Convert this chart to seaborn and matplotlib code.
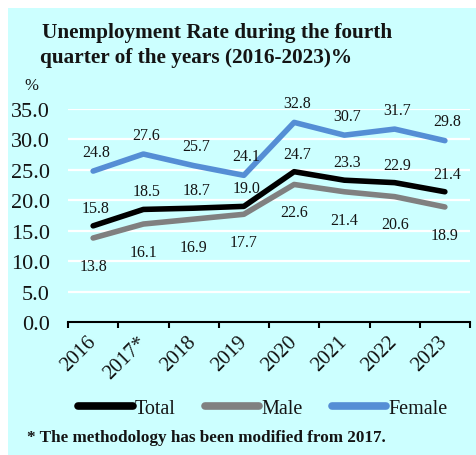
import matplotlib
matplotlib.use("Agg")
import matplotlib.pyplot as plt
import seaborn as sns
import pandas as pd
import numpy as np
from matplotlib.lines import Line2D

years = ["2016", "2017*", "2018", "2019", "2020", "2021", "2022", "2023"]
total = [15.8, 18.5, 18.7, 19.0, 24.7, 23.3, 22.9, 21.4]
male = [13.8, 16.1, 16.9, 17.7, 22.6, 21.4, 20.6, 18.9]
female = [24.8, 27.6, 25.7, 24.1, 32.8, 30.7, 31.7, 29.8]
series_names = ["Total", "Male", "Female"]
colors = {"Total": "#000000", "Male": "#808080", "Female": "#558ED5"}

bg = "#CCFFFF"
serif = ["Liberation Serif", "DejaVu Serif"]
text_color = "#141414"

sns.set_theme(style="white")
plt.rcParams["font.family"] = serif
plt.rcParams["text.color"] = text_color

df = pd.DataFrame({
    "pos": list(range(len(years))) * 3,
    "rate": total + male + female,
    "series": [s for s in series_names for _ in years],
})

fig = plt.figure(figsize=(4.76, 4.56), dpi=100)
fig.patch.set_facecolor("white")
# light cyan panel behind everything
fig.patches.append(plt.Rectangle((8 / 476, 0), 1, 1 - 9 / 456, transform=fig.transFigure,
                                 facecolor=bg, edgecolor="none", zorder=-10))

ax = fig.add_axes([68 / 476, 1 - 323 / 456, (470 - 68) / 476, (323 - 110) / 456])
ax.set_facecolor(bg)

for y in np.arange(5, 40, 5):
    ax.axhline(y, color="white", lw=1.6, zorder=0)

sns.lineplot(data=df, x="pos", y="rate", hue="series", palette=colors,
             hue_order=series_names, lw=4, ax=ax, legend=False,
             solid_capstyle="round", zorder=3)

ax.set_xlim(-0.5, 7.5)
ax.set_ylim(0, 35)

# value labels: Female and Total above their lines, Male below
for vals, dy in ((female, 14), (total, 13), (male, -20)):
    for i, v in enumerate(vals):
        ax.annotate(f"{v:.1f}", (i, v), xytext=(2 if dy > 0 else 0, dy),
                    textcoords="offset points", ha="center", va="center",
                    fontsize=11.5, color=text_color, zorder=5)

for s in ("top", "right", "left"):
    ax.spines[s].set_visible(False)
ax.spines["bottom"].set_color("black")
ax.spines["bottom"].set_linewidth(1.5)

ax.set_yticks(np.arange(0, 40, 5))
ax.set_yticklabels([f"{v:.1f}" for v in np.arange(0, 40, 5)], fontsize=16, color=text_color)
ax.tick_params(axis="y", length=0, pad=13)

ax.set_xticks(range(len(years)))
ax.set_xticklabels(years, rotation=45, ha="right", va="center",
                   rotation_mode="anchor", fontsize=15, color=text_color)
ax.tick_params(axis="x", which="major", length=0, pad=12)
ax.set_xticks(np.arange(-0.5, 8, 1), minor=True)
ax.tick_params(axis="x", which="minor", length=4, width=1.5, color="black",
               direction="out", bottom=True)
ax.set_xlabel("")
ax.set_ylabel("")

fig.text(42 / 476, 1 - 33 / 456, "Unemployment Rate during the fourth",
         fontsize=15.3, fontweight="bold", ha="left", va="center")
fig.text(40 / 476, 1 - 58 / 456, "quarter of the years (2016-2023)%",
         fontsize=15.3, fontweight="bold", ha="left", va="center")
fig.text(31 / 476, 1 - 86 / 456, "%", fontsize=12, ha="center", va="center")

handles = [Line2D([], [], color=colors[s], lw=5.5, solid_capstyle="round") for s in series_names]
fig.legend(handles, series_names, loc="center", bbox_to_anchor=(263 / 476, 1 - 409 / 456),
           ncol=3, frameon=False, fontsize=14.5, handlelength=2.7, handletextpad=0.1,
           columnspacing=1.45)

fig.text(27 / 476, 1 - 438 / 456, "* The methodology has been modified from 2017.",
         fontsize=12.3, fontweight="bold", ha="left", va="center")

fig.savefig("out.png", dpi=100, facecolor=fig.get_facecolor())
